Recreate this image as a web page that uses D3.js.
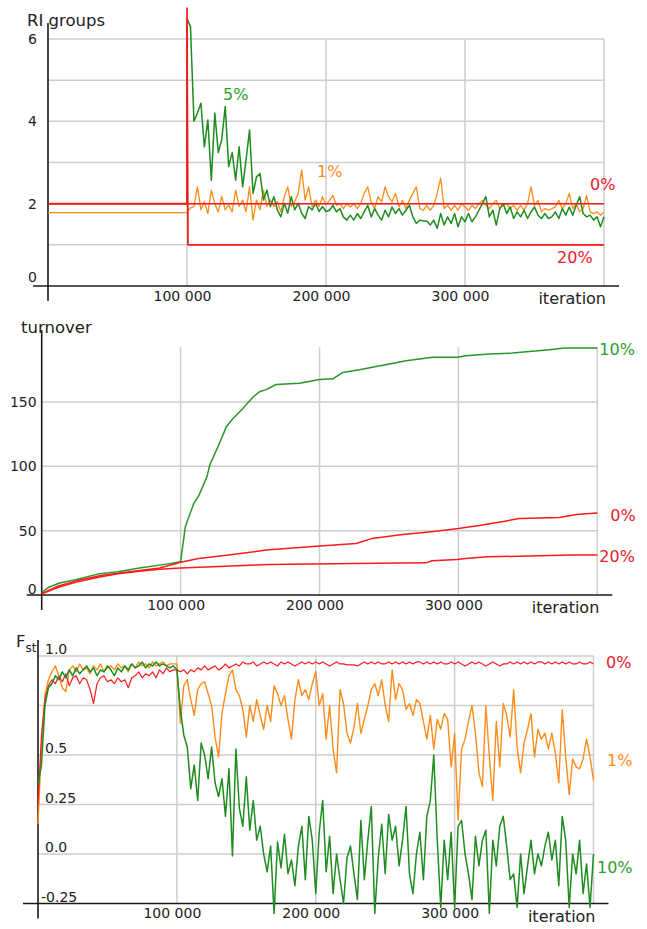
<!DOCTYPE html>
<html>
<head>
<meta charset="utf-8">
<script src="https://cdn.jsdelivr.net/npm/d3@7/dist/d3.min.js"></script>
<style>
body { margin: 0; background: #fff; }
svg text { font-family: "DejaVu Sans", sans-serif; }
</style>
</head>
<body>
<svg id="chart"></svg>
<script>
const step = 2500

// x axis
const xGrid = [100000, 200000, 300000, 400000]
const xTickValues = [100000, 200000, 300000]

// RI groups
const riGridY = [1, 2, 3, 4, 5, 6]
const riTickY = [0, 2, 4, 6]
const riRed0Iters = [0, 400000]
const riRed0Values = [2, 2]
const riRed20Iters = [0, 100000, 100000, 100700, 400000]
const riRed20Values = [2, 2, 6.75, 1, 1]
const riOrangeLeadIters = [0]
const riOrangeLeadValues = [1.78]
const riGreenLeadIters = [0, 100000]
const riGreenLeadValues = [2, 2]
const riNoiseStart = 100000
const riOrangeValues = [
    1.78, 1.9, 1.93, 2.41, 1.85, 2.05, 1.76, 2.33, 2.0, 1.8, 2.17, 1.85, 1.97, 1.8, 2.33, 1.93, 2.09, 1.8, 2.41, 1.6,
    2.09, 1.85, 2.33, 1.93, 2.09, 1.93, 2.05, 1.8, 2.17, 2.41, 1.93, 2.05, 2.25, 2.82, 2.09, 2.41, 1.93, 2.09, 1.93, 2.17, 1.97,
    2.08, 2.2, 1.96, 2.0, 1.88, 2.0, 1.92, 2.0, 1.88, 2.0, 2.25, 2.41, 2.04, 1.88, 2.17, 2.04, 2.41, 2.17, 2.04, 2.25,
    1.92, 2.08, 1.88, 2.08, 2.25, 2.41, 1.88, 1.84, 1.96, 1.84, 1.96, 2.25, 2.62, 1.88, 1.96, 1.84, 1.96, 1.84, 2.0, 1.92,
    1.84, 1.96, 1.88, 2.0, 2.08, 1.96, 1.88, 2.0, 2.08, 1.88, 1.96, 2.0, 1.88, 1.96, 1.84, 1.96, 1.84, 2.0, 2.41, 1.96,
    2.08, 1.8, 1.88, 1.84, 1.88, 1.92, 2.08, 1.88, 2.0, 2.25, 1.88, 2.0, 1.8, 1.88, 2.2, 1.8, 1.76, 1.8, 1.72, 1.8
]
const riGreenValues = [
    6.5, 6.3, 4.0, 4.2, 4.44, 3.38, 4.03, 2.57, 4.2, 3.24, 3.56, 4.36, 2.9, 3.24, 2.57, 3.38, 2.41, 3.07, 3.79, 2.25,
    2.65, 2.73, 2.09, 2.33, 1.93, 2.17, 1.85, 1.68, 2.01, 1.77, 2.17, 1.85, 2.01, 1.77, 1.64, 1.93, 1.85, 2.01, 1.81, 1.93, 1.81,
    1.84, 1.96, 1.8, 1.88, 1.68, 1.6, 1.72, 1.6, 1.76, 1.64, 1.8, 1.96, 1.68, 1.88, 1.72, 1.6, 1.84, 1.68, 1.92, 1.76,
    1.88, 1.72, 1.84, 1.96, 1.68, 1.52, 1.6, 1.58, 1.58, 1.48, 1.6, 1.4, 1.76, 1.48, 1.68, 1.52, 1.76, 1.44, 1.68, 1.56,
    1.76, 1.56, 1.68, 1.84, 2.0, 2.17, 1.68, 1.84, 1.48, 1.88, 2.0, 1.76, 1.92, 1.64, 1.8, 1.68, 1.84, 1.64, 1.8, 1.92,
    1.72, 1.64, 1.76, 1.64, 1.68, 1.8, 1.64, 1.88, 1.72, 1.92, 1.72, 1.96, 2.17, 1.76, 1.68, 1.72, 1.6, 1.68, 1.44, 1.68
]

// turnover
const tnGridY = [50, 100, 150]
const tnTickY = [0, 50, 100, 150]
const tnGreenIters = [0, 5000, 12900, 25000, 41700, 55000, 70500, 89700, 100000,
    103400, 109400, 113000, 119000, 121000, 128000, 132800, 137600, 144800, 152000, 156800, 161600, 168800, 185600,
    200000, 209600, 216800, 228800, 238000, 250400, 262400, 272000, 281400, 299300, 305500, 322300, 339000, 353000, 365500, 376300, 400000]
const tnGreenValues = [2, 6, 9.3, 12, 16.6, 18, 21, 24, 25.8,
    53, 71, 77, 92, 101, 118, 130.5, 137, 145, 153.7, 158, 159.6, 163.6, 164.6,
    167.4, 168, 173, 175, 177, 179.6, 182, 183.4, 184.7, 184.7, 186, 187.3, 188, 189.4, 190.7, 192, 192]
const tnRed0Iters = [0, 12000, 25000, 41700, 55000, 70500, 85000, 100000, 113000, 137600, 161600, 185600, 200000,
    226400, 238000, 259700, 279000, 300000, 315000, 334500, 343900, 372700, 384900, 400000]
const tnRed0Values = [1, 7, 11, 15, 17, 19, 21, 25.5, 28.4, 31.5, 34.9, 37, 38,
    40, 44, 47, 49, 51.6, 54, 57.6, 59.4, 60.2, 62.5, 63.8]
const tnRed20Iters = [0, 12000, 25000, 41700, 55000, 70500, 85000, 100000, 123000, 164000, 224000,
    276800, 281000, 299000, 305000, 320900, 382000, 400000]
const tnRed20Values = [1, 6, 10, 14, 16.5, 18.5, 20, 21, 22, 23.8, 24.5,
    25, 26.6, 27.6, 28.4, 29.7, 31, 31]

// Fst
const fstGridY = [0, 0.25, 0.5, 0.75, 1.0]
const fstTickY = [1.0, 0.5, 0.25, 0.0, -0.25]
const fstTickText = ['1.0', '0.5', '0.25', '0.0', '-0.25']
const fstRedValues = [
    0.25, 0.6, 0.78, 0.85, 0.88, 0.86, 0.9, 0.87, 0.91, 0.85, 0.89, 0.9, 0.86, 0.89, 0.88, 0.83, 0.76, 0.86, 0.89, 0.9,
    0.87, 0.88, 0.86, 0.89, 0.87, 0.88, 0.84, 0.89, 0.9, 0.92, 0.89, 0.91, 0.9, 0.92, 0.89, 0.93, 0.91, 0.94, 0.92, 0.93,
    0.93, 0.92, 0.93, 0.91, 0.93, 0.92, 0.94, 0.93, 0.95, 0.93, 0.94, 0.95, 0.93, 0.94, 0.96, 0.94, 0.95,
    0.96, 0.95, 0.97, 0.96, 0.96, 0.97, 0.95, 0.96, 0.97, 0.96, 0.97, 0.96, 0.95, 0.97, 0.96, 0.97, 0.96, 0.95, 0.96, 0.97, 0.96, 0.97, 0.96,
    0.97, 0.96, 0.97, 0.96, 0.95, 0.96, 0.97, 0.96, 0.96, 0.955, 0.955, 0.955, 0.95, 0.96, 0.97, 0.96, 0.97, 0.96, 0.97, 0.96,
    0.96, 0.97, 0.96, 0.97, 0.96, 0.97, 0.96, 0.97, 0.96, 0.97, 0.97, 0.96, 0.97, 0.96, 0.97, 0.96, 0.97, 0.96, 0.96, 0.97,
    0.96, 0.97, 0.96, 0.95, 0.96, 0.97, 0.96, 0.97, 0.96, 0.95, 0.96, 0.97, 0.96, 0.95, 0.96, 0.96, 0.97, 0.96, 0.97, 0.96,
    0.97, 0.96, 0.97, 0.96, 0.97, 0.97, 0.96, 0.97, 0.96, 0.97, 0.96, 0.97, 0.96, 0.97, 0.96, 0.96, 0.97, 0.96, 0.96, 0.97, 0.96
]
const fstOrangeValues = [
    0.15, 0.55, 0.8, 0.88, 0.92, 0.95, 0.9, 0.84, 0.82, 0.93, 0.95, 0.92, 0.96, 0.93, 0.94, 0.91, 0.95, 0.93, 0.96, 0.92,
    0.94, 0.95, 0.93, 0.96, 0.94, 0.95, 0.92, 0.96, 0.94, 0.97, 0.95, 0.96, 0.94, 0.97, 0.95, 0.96, 0.97, 0.95, 0.96, 0.96,
    0.96, 0.66, 0.85, 0.88, 0.78, 0.7, 0.83, 0.86, 0.87, 0.81, 0.75, 0.59, 0.49, 0.71, 0.81, 0.9, 0.93, 0.83, 0.8, 0.73,
    0.59, 0.75, 0.67, 0.78, 0.7, 0.63, 0.75, 0.67, 0.85, 0.81, 0.75, 0.8, 0.68, 0.58, 0.78, 0.88, 0.8, 0.83, 0.78, 0.86, 0.92,
    0.75, 0.81, 0.58, 0.75, 0.53, 0.41, 0.83, 0.76, 0.61, 0.56, 0.64, 0.76, 0.61, 0.68, 0.75, 0.83, 0.86, 0.8, 0.88, 0.75,
    0.67, 0.93, 0.78, 0.86, 0.83, 0.73, 0.76, 0.7, 0.78, 0.76, 0.67, 0.58, 0.7, 0.53, 0.68, 0.63, 0.71, 0.68, 0.44, 0.61,
    0.17, 0.53, 0.58, 0.67, 0.75, 0.61, 0.41, 0.34, 0.75, 0.49, 0.27, 0.67, 0.44, 0.76, 0.7, 0.59, 0.83, 0.54, 0.41, 0.56,
    0.63, 0.71, 0.49, 0.63, 0.58, 0.61, 0.53, 0.61, 0.51, 0.36, 0.73, 0.49, 0.3, 0.48, 0.44, 0.43, 0.48, 0.58, 0.49, 0.37
]
const fstGreenValues = [
    0.35, 0.45, 0.75, 0.84, 0.86, 0.9, 0.88, 0.92, 0.89, 0.93, 0.9, 0.94, 0.91, 0.93, 0.95, 0.92, 0.94, 0.9, 0.93, 0.92,
    0.95, 0.93, 0.9, 0.94, 0.92, 0.95, 0.93, 0.96, 0.94, 0.95, 0.97, 0.94, 0.96, 0.95, 0.97, 0.95, 0.96, 0.95, 0.94, 0.95,
    0.93, 0.73, 0.6, 0.54, 0.33, 0.45, 0.27, 0.56, 0.5, 0.38, 0.54, 0.36, 0.29, 0.38, 0.19, 0.43, -0.01, 0.53, 0.23, 0.14,
    0.39, 0.12, 0.27, 0.07, 0.14, 0.0, -0.09, 0.04, -0.3, 0.06, -0.07, 0.1, -0.1, -0.03, -0.16, 0.04, 0.14, -0.13, 0.19, 0.07, -0.2,
    0.11, 0.27, -0.09, 0.09, -0.2, 0.0, -0.13, -0.25, -0.02, 0.04, -0.1, -0.23, 0.17, -0.13, 0.07, 0.24, -0.3, -0.02, 0.15, -0.1,
    0.2, 0.07, 0.14, -0.06, 0.07, 0.24, -0.1, -0.2, 0.0, 0.11, -0.13, 0.19, 0.27, 0.5, 0.07, -0.27, 0.07, -0.13, 0.11, -0.27,
    0.14, 0.17, 0.0, -0.1, -0.23, 0.09, -0.06, 0.07, 0.12, -0.3, 0.07, -0.06, 0.14, 0.19, 0.04, -0.13, -0.1, -0.27, 0.0, -0.2,
    -0.06, 0.07, -0.1, 0.0, -0.06, 0.04, 0.11, -0.03, 0.07, -0.16, 0.19, 0.07, -0.27, 0.0, -0.1, 0.07, -0.2, -0.05, -0.27, 0.0
]

const red = '#ff1a1a'
const green = '#1f8c1f'
const orange = '#ff8c1a'
const labelGreen = '#2d9e2d'
const labelRed = '#e8202a'

const width = 647
const height = 929
const svg = d3.select('#chart').attr('width', width).attr('height', height)

const spaceFormat = d3.formatLocale({ decimal: '.', thousands: ' ', grouping: [3], currency: ['', ''] }).format(',d')

function pairs(iters, values) {
    return iters.map(function(it, i) {
        return [it, values[i]]
    })
}

function sampled(start, values) {
    return values.map(function(v, i) {
        return [start + i * step, v]
    })
}

function drawPanel(p) {
    const g = svg.append('g')
    const x = p.x
    const y = p.y
    const x0 = x(0)
    const x1 = x(400000)

    g.selectAll('line.hgrid').data(p.gridY).join('line')
        .attr('class', 'hgrid')
        .attr('x1', x0).attr('x2', x1)
        .attr('y1', function(d) { return y(d) })
        .attr('y2', function(d) { return y(d) })
        .attr('stroke', '#cdcdcd').attr('stroke-width', 1.5)

    g.selectAll('line.vgrid').data(xGrid).join('line')
        .attr('class', 'vgrid')
        .attr('x1', function(d) { return x(d) })
        .attr('x2', function(d) { return x(d) })
        .attr('y1', y(p.gridTop)).attr('y2', y(p.yMin))
        .attr('stroke', '#cdcdcd').attr('stroke-width', 1.5)

    // axes with overhang
    g.append('line')
        .attr('x1', x0 - 15).attr('x2', x1 + 15)
        .attr('y1', y(p.yMin)).attr('y2', y(p.yMin))
        .attr('stroke', '#1a1a1a').attr('stroke-width', 1.6)
    g.append('line')
        .attr('x1', x0).attr('x2', x0)
        .attr('y1', p.axisTop).attr('y2', y(p.yMin) + 15)
        .attr('stroke', '#1a1a1a').attr('stroke-width', 1.6)

    const xAxis = d3.axisBottom(x).tickValues(xTickValues).tickSize(0).tickPadding(5).tickFormat(spaceFormat)
    const xg = g.append('g')
        .attr('transform', 'translate(0,' + y(p.yMin) + ')')
        .call(xAxis)
    xg.select('.domain').remove()
    xg.attr('font-size', 14).attr('font-family', '"DejaVu Sans", sans-serif').style('color', '#222')
    xg.selectAll('text').attr('x', -5)

    g.append('text')
        .attr('x', x1 + 2).attr('y', y(p.yMin) + 18)
        .attr('text-anchor', 'end')
        .attr('font-size', 16).attr('fill', '#222')
        .text('iteration')

    p.series.forEach(function(s) {
        const line = d3.line()
            .x(function(d) { return x(d[0]) })
            .y(function(d) { return y(d[1]) })
        g.append('path')
            .datum(s.points)
            .attr('d', line)
            .attr('fill', 'none')
            .attr('stroke', s.color)
            .attr('stroke-width', s.width)
            .attr('stroke-linejoin', 'round')
    })

    p.labels.forEach(function(l) {
        g.append('text')
            .attr('x', x(l.iter) + l.dx)
            .attr('y', y(l.value))
            .attr('font-size', 16)
            .attr('fill', l.color)
            .text(l.text)
    })

    return g
}

// panel 1: RI groups
const x1s = d3.scaleLinear().domain([0, 400000]).range([48, 604])
const y1s = d3.scaleLinear().domain([0, 6]).range([286, 39])
const g1 = drawPanel({
    x: x1s, y: y1s, yMin: 0, gridTop: 6, gridY: riGridY, axisTop: 23,
    series: [
        { points: pairs(riOrangeLeadIters, riOrangeLeadValues).concat(sampled(riNoiseStart, riOrangeValues)), color: orange, width: 1.3 },
        { points: pairs(riGreenLeadIters, riGreenLeadValues).concat(sampled(riNoiseStart, riGreenValues)), color: green, width: 1.5 },
        { points: pairs(riRed0Iters, riRed0Values), color: red, width: 1.5 },
        { points: pairs(riRed20Iters, riRed20Values), color: red, width: 1.7 }
    ],
    labels: [
        { text: '5%', iter: 125900, value: 4.52, dx: 0, color: labelGreen },
        { text: '1%', iter: 193500, value: 2.65, dx: 0, color: orange },
        { text: '0%', iter: 390000, value: 2.33, dx: 0, color: labelRed },
        { text: '20%', iter: 366200, value: 0.56, dx: 0, color: labelRed }
    ]
})
const y1Axis = g1.append('g').attr('transform', 'translate(48,0)')
    .call(d3.axisLeft(y1s).tickValues(riTickY).tickSize(0).tickPadding(11).tickFormat(d3.format('d')))
y1Axis.select('.domain').remove()
y1Axis.attr('font-size', 14).attr('font-family', '"DejaVu Sans", sans-serif').style('color', '#222')
y1Axis.selectAll('text').attr('dy', function(d) { return d === 0 ? '-0.32em' : '0.32em' })
g1.append('text').attr('x', 27).attr('y', 26).attr('font-size', 16.5).attr('fill', '#222').text('RI groups')

// panel 2: turnover
const x2s = d3.scaleLinear().domain([0, 400000]).range([41.7, 597.3])
const y2s = d3.scaleLinear().domain([0, 150]).range([595, 402])
const g2 = drawPanel({
    x: x2s, y: y2s, yMin: 0, gridTop: 192.5, gridY: tnGridY, axisTop: 330,
    series: [
        { points: pairs(tnGreenIters, tnGreenValues), color: '#2a962a', width: 1.5 },
        { points: pairs(tnRed0Iters, tnRed0Values), color: red, width: 1.5 },
        { points: pairs(tnRed20Iters, tnRed20Values), color: red, width: 1.5 }
    ],
    labels: [
        { text: '10%', iter: 400000, value: 186.5, dx: 2, color: labelGreen },
        { text: '0%', iter: 400000, value: 57.5, dx: 13, color: labelRed },
        { text: '20%', iter: 400000, value: 25.6, dx: 2, color: labelRed }
    ]
})
const y2Axis = g2.append('g').attr('transform', 'translate(41.7,0)')
    .call(d3.axisLeft(y2s).tickValues(tnTickY).tickSize(0).tickPadding(5).tickFormat(d3.format('d')))
y2Axis.select('.domain').remove()
y2Axis.attr('font-size', 14).attr('font-family', '"DejaVu Sans", sans-serif').style('color', '#222')
y2Axis.selectAll('text').attr('dy', function(d) { return d === 0 ? '-0.1em' : '0.32em' })
g2.append('text').attr('x', 21).attr('y', 333).attr('font-size', 16.5).attr('fill', '#222').text('turnover')

// panel 3: Fst
const x3s = d3.scaleLinear().domain([0, 400000]).range([38, 593.5])
const y3s = d3.scaleLinear().domain([-0.25, 1.0]).range([903.5, 656])
const g3 = drawPanel({
    x: x3s, y: y3s, yMin: -0.25, gridTop: 1.0, gridY: fstGridY, axisTop: 640,
    series: [
        { points: sampled(0, fstOrangeValues), color: orange, width: 1.4 },
        { points: sampled(0, fstRedValues), color: red, width: 1.2 },
        { points: sampled(0, fstGreenValues), color: green, width: 1.5 }
    ],
    labels: [
        { text: '0%', iter: 400000, value: 0.941, dx: 12.5, color: labelRed },
        { text: '1%', iter: 400000, value: 0.446, dx: 13.5, color: orange },
        { text: '10%', iter: 400000, value: -0.094, dx: 3.5, color: labelGreen }
    ]
})
const y3Axis = g3.append('g').attr('transform', 'translate(38,0)')
    .call(d3.axisRight(y3s).tickValues(fstTickY).tickSize(0).tickPadding(7)
        .tickFormat(function(d, i) { return fstTickText[i] }))
y3Axis.select('.domain').remove()
y3Axis.attr('font-size', 14).attr('font-family', '"DejaVu Sans", sans-serif').style('color', '#222')
y3Axis.selectAll('text')
    .attr('x', function(d) { return d < 0 ? 3 : 7 })
    .attr('dy', '-0.15em')
const fstTitle = g3.append('text').attr('x', 16).attr('y', 647).attr('font-size', 16.5).attr('fill', '#222')
fstTitle.append('tspan').text('F')
fstTitle.append('tspan').attr('font-size', 12).attr('dy', 5).text('st')
</script>
</body>
</html>
